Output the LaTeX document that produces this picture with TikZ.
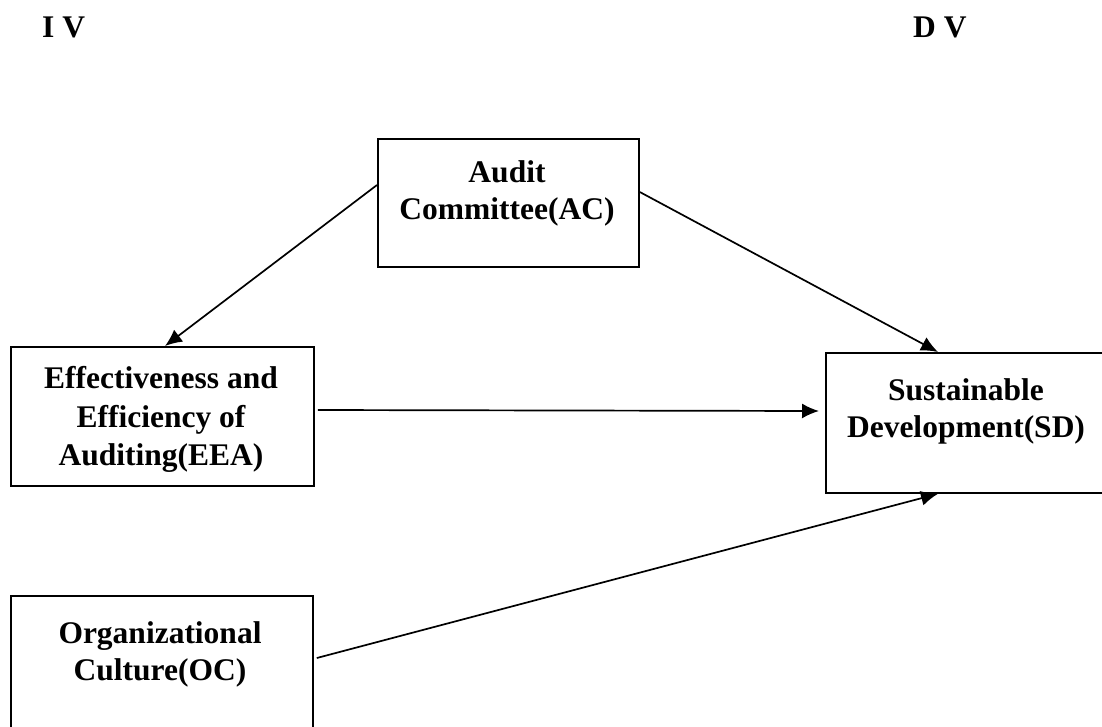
\documentclass[tikz,border=0pt]{standalone}
\usepackage{fontspec}
\setmainfont{Liberation Serif}
\usetikzlibrary{arrows.meta,calc}
\tikzset{
  box/.style={draw, line width=1.8pt, rectangle, inner sep=0pt, anchor=north west},
  lbl/.style={font=\fontsize{31.5}{37.5}\selectfont\bfseries, align=center, inner sep=0pt, anchor=base},
  conn/.style={line width=1.7pt, -{Latex[length=17pt,width=15pt]}}
}
\begin{document}
\begin{tikzpicture}[x=1pt,y=-1pt]
\useasboundingbox (0,0) rectangle (1102,726);
\clip (0,0) rectangle (1102,726);
% boxes
\node[box, minimum width=261pt, minimum height=128pt] (ac) at (377,138) {};
\node[box, minimum width=303pt, minimum height=139pt] (eea) at (10,346) {};
\node[box, minimum width=290pt, minimum height=140pt] (sd) at (825,352) {};
\node[box, minimum width=302pt, minimum height=150pt] (oc) at (10,595) {};
% headers
\node[lbl, anchor=base west] (iv) at (42,37) {I V};
\node[lbl, anchor=base west] (dv) at (913,37) {D V};
% labels
\node[lbl] (acl1) at (507,182) {Audit};
\node[lbl] (acl2) at (507,219) {Committee(AC)};
\node[lbl] (eeal1) at (161,388) {Effectiveness and};
\node[lbl] (eeal2) at (161,427) {Efficiency of};
\node[lbl] (eeal3) at (161,465) {Auditing(EEA)};
\node[lbl] (sdl1) at (966,400) {Sustainable};
\node[lbl] (sdl2) at (966,437) {Development(SD)};
\node[lbl] (ocl1) at (160,643) {Organizational};
\node[lbl] (ocl2) at (160,680) {Culture(OC)};
% anchor points
\coordinate (acL) at ($(ac.north west)+(0,47)$);
\coordinate (acR) at ($(ac.north east)+(0,54)$);
\coordinate (eeaT) at ($(eea.north west)+(155,0)$);
\coordinate (eeaR) at ($(eea.north east)+(3,64)$);
\coordinate (sdT) at ($(sd.north west)+(113,0)$);
\coordinate (sdL) at ($(sd.north west)+(-6,59)$);
\coordinate (sdB) at ($(sd.south west)+(113,0)$);
\coordinate (ocR) at ($(oc.north east)+(3,63)$);
% connectors
\draw[conn] (acL) -- (eeaT);
\draw[conn] (acR) -- (sdT);
\draw[conn] (eeaR) -- (sdL);
\draw[conn] (ocR) -- (sdB);
\end{tikzpicture}
\end{document}
